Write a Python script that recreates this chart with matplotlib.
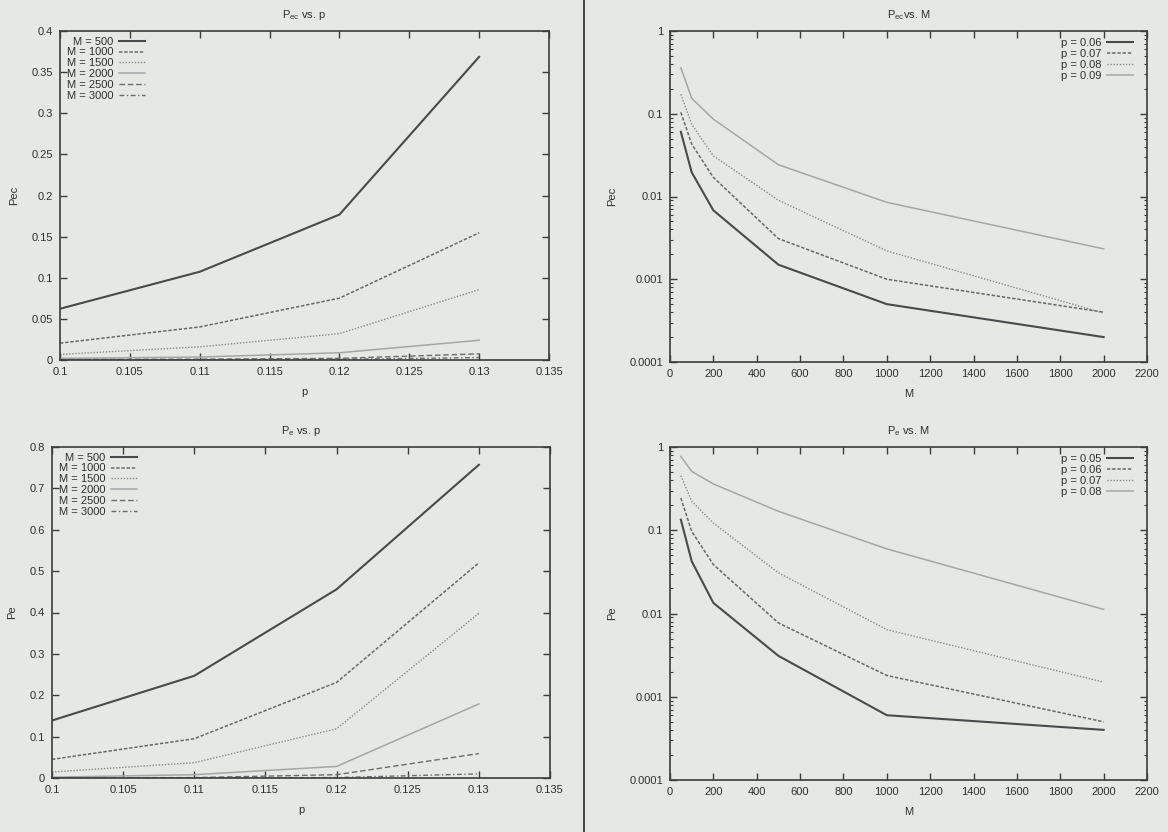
import matplotlib
matplotlib.use("Agg")
import matplotlib.pyplot as plt
from matplotlib.ticker import FuncFormatter, MultipleLocator, LogLocator, NullFormatter, FixedLocator
from matplotlib.lines import Line2D

plt.rcParams['font.family'] = ['Liberation Sans', 'DejaVu Sans']
plt.rcParams['mathtext.default'] = 'regular'

# ---- data -------------------------------------------------------------
p_values = [0.10, 0.11, 0.12, 0.13]
M_labels = ["M = 500", "M = 1000", "M = 1500", "M = 2000", "M = 2500", "M = 3000"]

pec_vs_p = [
    [0.0623, 0.1073, 0.1768, 0.3686],   # M = 500
    [0.0205, 0.0402, 0.0752, 0.1547],   # M = 1000
    [0.0068, 0.0160, 0.0320, 0.0856],   # M = 1500
    [0.0020, 0.0036, 0.0088, 0.0240],   # M = 2000
    [0.0005, 0.0010, 0.0020, 0.0075],   # M = 2500
    [0.0001, 0.0003, 0.0008, 0.0030],   # M = 3000
]

pe_vs_p = [
    [0.139, 0.247, 0.456, 0.757],       # M = 500
    [0.045, 0.095, 0.231, 0.520],       # M = 1000
    [0.0145, 0.037, 0.119, 0.398],      # M = 1500
    [0.002, 0.008, 0.028, 0.179],       # M = 2000
    [0.0003, 0.001, 0.008, 0.059],      # M = 2500
    [0.0001, 0.0002, 0.001, 0.010],     # M = 3000
]

M_values = [50, 100, 200, 500, 1000, 2000]

pec_p_labels = ["p = 0.06", "p = 0.07", "p = 0.08", "p = 0.09"]
pec_vs_M = [
    [0.0605, 0.0196, 0.0068, 0.0015, 0.0005, 0.0002],   # p = 0.06
    [0.104, 0.043, 0.017, 0.0031, 0.0010, 0.0004],      # p = 0.07
    [0.172, 0.0748, 0.031, 0.0090, 0.0022, 0.00039],    # p = 0.08
    [0.361, 0.154, 0.086, 0.0242, 0.0085, 0.00233],     # p = 0.09
]

pe_p_labels = ["p = 0.05", "p = 0.06", "p = 0.07", "p = 0.08"]
pe_vs_M = [
    [0.134, 0.0425, 0.0134, 0.0031, 0.0006, 0.0004],    # p = 0.05
    [0.244, 0.097, 0.0387, 0.0077, 0.0018, 0.0005],     # p = 0.06
    [0.453, 0.223, 0.122, 0.0308, 0.0064, 0.0015],      # p = 0.07
    [0.77, 0.51, 0.36, 0.169, 0.0597, 0.0112],          # p = 0.08
]

# ---- styling ----------------------------------------------------------
PAPER = '#e5e8e3'
INK = '#3c3c3c'
TXT = '#303030'
styles = [
    dict(color='#4a4a4a', lw=1.5, ls='-'),
    dict(color='#686868', lw=1.1, dashes=(2.2, 1.2)),
    dict(color='#8a8a8a', lw=1.0, dashes=(1.0, 1.2)),
    dict(color='#a6a6a6', lw=1.1, ls='-'),
    dict(color='#6c6c6c', lw=1.0, dashes=(4.0, 2.0)),
    dict(color='#6c6c6c', lw=1.0, dashes=(3.5, 1.8, 1.0, 1.8)),
]

FS = 8
fig = plt.figure(figsize=(11.68, 8.32), dpi=100, facecolor=PAPER)

def style_axes(ax):
    ax.set_facecolor(PAPER)
    for s in ax.spines.values():
        s.set_color(INK)
        s.set_linewidth(1.2)
    ax.tick_params(which='both', direction='in', top=True, right=True,
                   colors=INK, labelcolor=TXT, labelsize=FS, pad=5)
    ax.tick_params(which='major', length=5, width=1.0)
    ax.tick_params(which='minor', length=2.5, width=0.8)

fmt = FuncFormatter(lambda v, pos: '%g' % round(v, 6))

legend_kw = dict(frameon=False, fontsize=FS, markerfirst=False,
                 handlelength=2.3, handletextpad=0.5, labelspacing=0.08,
                 borderpad=0.2, borderaxespad=0.0, labelcolor=TXT)

def linear_panel(rect, data, ymax, ystep, title, ylabel):
    ax = fig.add_axes(rect)
    style_axes(ax)
    for series, lab, st in zip(data, M_labels, styles):
        ax.plot(p_values, series, label=lab, **st)
    ax.set_xlim(0.1, 0.135)
    ax.set_ylim(0, ymax)
    ax.xaxis.set_major_locator(MultipleLocator(0.005))
    ax.yaxis.set_major_locator(MultipleLocator(ystep))
    ax.xaxis.set_major_formatter(fmt)
    ax.yaxis.set_major_formatter(fmt)
    ax.set_title(title, fontsize=FS, color=TXT, pad=9)
    ax.set_xlabel('p', fontsize=FS, color=TXT, labelpad=7)
    ax.set_ylabel(ylabel, fontsize=FS, color=TXT, labelpad=9)
    ax.legend(loc='upper left', bbox_to_anchor=(0.010, 0.990), **legend_kw)
    return ax

def log_panel(rect, data, labels, title, ylabel):
    ax = fig.add_axes(rect)
    style_axes(ax)
    for series, lab, st in zip(data, labels, styles):
        ax.plot(M_values, series, label=lab, **st)
    ax.set_yscale('log')
    ax.set_xlim(0, 2200)
    ax.set_ylim(1e-4, 1)
    ax.xaxis.set_major_locator(MultipleLocator(200))
    ax.yaxis.set_major_locator(FixedLocator([1e-4, 1e-3, 1e-2, 1e-1, 1]))
    ax.yaxis.set_minor_locator(LogLocator(base=10, subs=range(2, 10), numticks=20))
    ax.yaxis.set_minor_formatter(NullFormatter())
    ax.xaxis.set_major_formatter(fmt)
    ax.yaxis.set_major_formatter(fmt)
    ax.set_title(title, fontsize=FS, color=TXT, pad=9)
    ax.set_xlabel('M', fontsize=FS, color=TXT, labelpad=7)
    ax.set_ylabel(ylabel, fontsize=FS, color=TXT, labelpad=9)
    ax.legend(loc='upper right', bbox_to_anchor=(0.975, 0.986), **legend_kw)
    return ax

W, H = 1168.0, 832.0
def rect(x0, y0, x1, y1):
    return [x0 / W, 1 - y1 / H, (x1 - x0) / W, (y1 - y0) / H]

linear_panel(rect(60, 31, 549, 360), pec_vs_p, 0.4, 0.05, r'P$_{ec}$ vs. p', 'Pec')
log_panel(rect(670, 31, 1147, 362), pec_vs_M, pec_p_labels, r'P$_{ec}$vs. M', 'Pec')
linear_panel(rect(52, 447, 550, 778), pe_vs_p, 0.8, 0.1, r'P$_{e}$ vs. p', 'Pe')
log_panel(rect(670, 447, 1147, 780), pe_vs_M, pe_p_labels, r'P$_{e}$ vs. M', 'Pe')

# vertical divider between the two columns
fig.add_artist(Line2D([584 / W, 584 / W], [0, 1], transform=fig.transFigure,
                      color='#3a3a3a', lw=1.3))

fig.savefig('out.png', dpi=100, facecolor=PAPER)
